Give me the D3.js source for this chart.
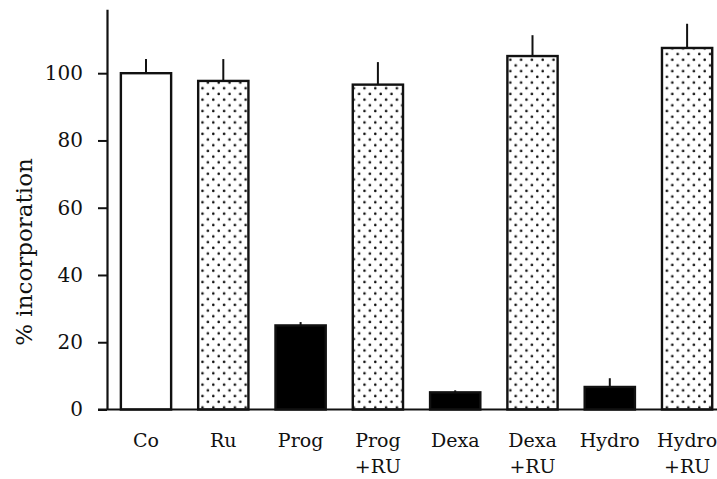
<!DOCTYPE html>
<html>
<head>
<meta charset="utf-8">
<script src="https://cdn.jsdelivr.net/npm/d3@7"></script>
<style>
  body { margin: 0; background: #fff; }
  svg text { font-family: "DejaVu Serif", serif; fill: #111; }
</style>
</head>
<body>
<svg id="chart" width="717" height="479"></svg>
<script>
// categories, each label split in lines
const categories = ['Co', 'Ru', 'Prog', 'Prog+RU', 'Dexa', 'Dexa+RU', 'Hydro', 'Hydro+RU']
const labelLines = [['Co'], ['Ru'], ['Prog'], ['Prog', '+RU'], ['Dexa'], ['Dexa', '+RU'], ['Hydro'], ['Hydro', '+RU']]
const values = [100, 97.7, 25, 96.6, 5.1, 105.1, 6.7, 107.5]
const errors = [4.2, 6.5, 1, 6.7, 0.6, 6.2, 2.6, 7.2]
const fills = ['white', 'dots', 'black', 'dots', 'black', 'dots', 'black', 'dots']
const yTicks = [0, 20, 40, 60, 80, 100]

const svg = d3.select('#chart')

// dotted fill
const pat = svg.append('defs').append('pattern')
    .attr('id', 'dots')
    .attr('patternUnits', 'userSpaceOnUse')
    .attr('width', 10.8)
    .attr('height', 11.4)
pat.append('rect').attr('width', 10.8).attr('height', 11.4).attr('fill', 'white')
pat.append('circle').attr('cx', 2.7).attr('cy', 2.8).attr('r', 1.3).attr('fill', '#111')
pat.append('circle').attr('cx', 8.1).attr('cy', 8.5).attr('r', 1.3).attr('fill', '#111')

const x = d3.scaleBand()
    .domain(categories)
    .range([107.35, 725.75])
    .paddingInner(0.35)
    .paddingOuter(0.175)

const y = d3.scaleLinear()
    .domain([0, 119])
    .range([409.5, 9.3])

// bars
svg.selectAll('.bar')
    .data(categories)
    .enter().append('rect')
    .attr('class', 'bar')
    .attr('x', d => x(d))
    .attr('width', x.bandwidth())
    .attr('y', (d, i) => y(values[i]))
    .attr('height', (d, i) => y(0) - y(values[i]))
    .attr('fill', (d, i) => fills[i] == 'dots' ? 'url(#dots)' : fills[i])
    .attr('stroke', '#111')
    .attr('stroke-width', 2.4)

// error bars (upper only)
svg.selectAll('.err')
    .data(categories)
    .enter().append('line')
    .attr('class', 'err')
    .attr('x1', d => x(d) + x.bandwidth()/2)
    .attr('x2', d => x(d) + x.bandwidth()/2)
    .attr('y1', (d, i) => y(values[i]))
    .attr('y2', (d, i) => y(values[i] + errors[i]))
    .attr('stroke', '#111')
    .attr('stroke-width', 2)

// y axis
const yAxis = svg.append('g')
    .attr('transform', 'translate(107,0)')
    .call(d3.axisLeft(y).tickValues(yTicks).tickSize(9).tickPadding(15).tickSizeOuter(0))
yAxis.select('.domain').attr('stroke', '#111').attr('stroke-width', 2.2)
yAxis.selectAll('.tick line').attr('stroke', '#111').attr('stroke-width', 2)
yAxis.selectAll('.tick text')
    .style('font-family', '"DejaVu Serif", serif')
    .style('font-size', '20px')
    .attr('fill', '#111')

// baseline
svg.append('line')
    .attr('x1', 98).attr('x2', 717)
    .attr('y1', y(0)).attr('y2', y(0))
    .attr('stroke', '#111')
    .attr('stroke-width', 2.2)

// category labels
const lab = svg.selectAll('.cat')
    .data(categories)
    .enter().append('text')
    .attr('class', 'cat')
    .attr('text-anchor', 'middle')
    .style('font-size', '19px')
    .attr('transform', d => 'translate(' + (x(d) + x.bandwidth()/2) + ',447)')
lab.selectAll('tspan')
    .data((d, i) => labelLines[i])
    .enter().append('tspan')
    .attr('x', 0)
    .attr('y', (d, j) => j * 26)
    .text(d => d)

// y label
svg.append('text')
    .attr('transform', 'translate(32,252) rotate(-90)')
    .attr('text-anchor', 'middle')
    .style('font-size', '23px')
    .text('% incorporation')
</script>
</body>
</html>
